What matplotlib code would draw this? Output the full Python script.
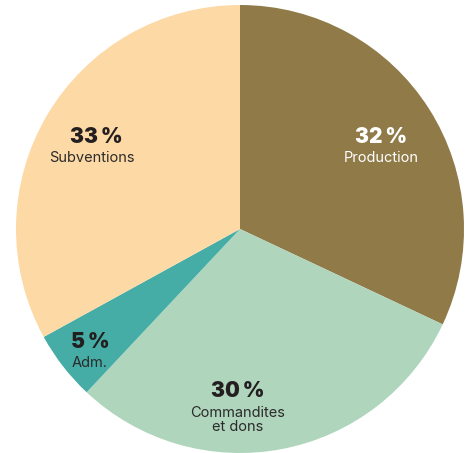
import matplotlib.pyplot as plt

# données
labels = ["Production", "Commandites\net dons", "Adm.", "Subventions"]
pcts = [32, 30, 5, 33]
colors = ["#8f7a48", "#afd5bc", "#45ada6", "#fdd9a5"]
pct_colors = ["white", "#231f20", "#231f20", "#231f20"]
name_colors = ["white", "#2b2b2b", "#2b2b2b", "#2b2b2b"]

# position des étiquettes (fraction du rayon, par rapport au centre)
label_pos = [(0.629, 0.348), (-0.009, -0.790), (-0.670, -0.567), (-0.661, 0.348)]
pct_dx = [0, 0, 0, 4]  # petit décalage horizontal du pourcentage

W, H = 465, 453
fig = plt.figure(figsize=(W / 100, H / 100), dpi=100)
ax = fig.add_axes([0, 0, 1, 1])

cx, cy, r = 240, H - 229, 224
ax.pie(pcts, colors=colors, startangle=90, counterclock=False,
       center=(cx, cy), radius=r, wedgeprops={"linewidth": 0})
ax.set_xlim(0, W)
ax.set_ylim(0, H)
ax.set_aspect("auto")
ax.axis("off")

fam = ["Inter", "DejaVu Sans"]
for lab, p, (fx, fy), dx, c1, c2 in zip(labels, pcts, label_pos, pct_dx, pct_colors, name_colors):
    x, y = cx + fx * r, cy + fy * r
    ax.text(x + dx, y + 8.5, f"{p}\u2009%", ha="center", va="baseline", fontsize=15,
            fontweight="black", color=c1, family=fam)
    ax.text(x, y, lab, ha="center", va="top", fontsize=10.5,
            color=c2, family=fam, linespacing=1.0)

fig.savefig("out.png", dpi=100)
